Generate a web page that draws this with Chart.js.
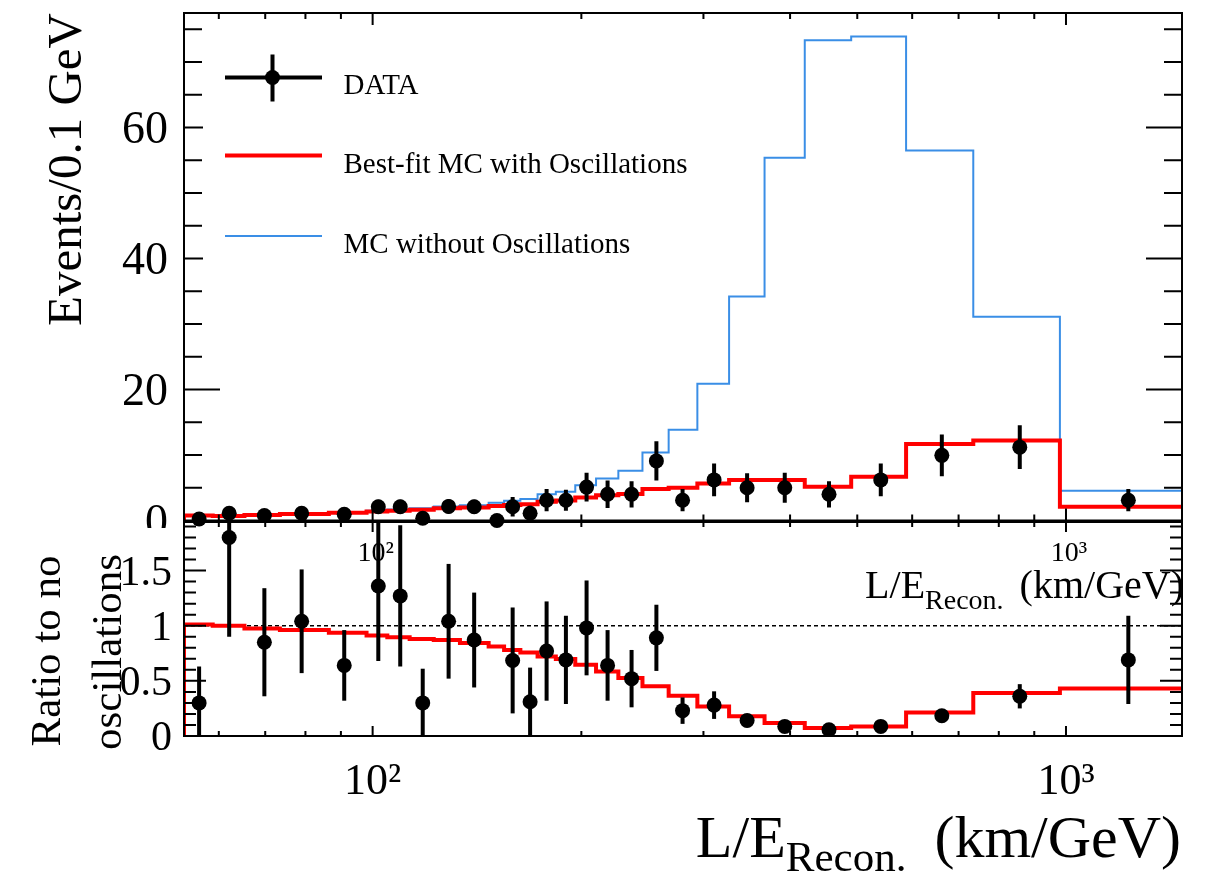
<!DOCTYPE html>
<html>
<head>
<meta charset="utf-8">
<title>L/E spectrum</title>
<script src="https://cdn.jsdelivr.net/npm/chart.js@4.4.1/dist/chart.umd.min.js"></script>
<style>
  html, body { margin: 0; padding: 0; background: #fff; }
  #wrap { position: relative; width: 1207px; height: 874px; overflow: hidden; }
  canvas { position: absolute; left: 0; }
  #ratioChart { top: 500px; z-index: 1; }
  #mainChart  { top: 0; z-index: 2; }
</style>
</head>
<body>
<div id="wrap">
  <canvas id="ratioChart" width="1207" height="374"></canvas>
  <canvas id="mainChart" width="1207" height="528"></canvas>
</div>
<script>
/* =============================================
   L/E spectrum with ratio panel — Chart.js
   ============================================= */

// ── Data ───────────────────────────────────────
// bin edges in L/E (km/GeV)
const binEdges = [53.45, 58.8, 65.33, 73.5, 86.47, 98, 105, 113.08, 122.5, 133.64, 147,
  154.74, 163.33, 172.94, 183.75, 196, 210, 226.15, 245, 267.27, 294, 326.67, 367.5,
  420, 490, 588, 735, 980, 1470];

// Events / 0.1 GeV per bin
const noOscMC   = [0.75, 0.7, 0.87, 1.04, 1.28, 1.5, 1.68, 1.88, 2.15, 2.34, 2.7, 3.0, 3.3,
  4.0, 4.4, 5.4, 6.4, 7.6, 10.4, 13.85, 20.9, 34.2, 55.4, 73.35, 73.9, 56.5, 31.1, 4.55];
const bestFitMC = [0.76, 0.69, 0.85, 1.0, 1.2, 1.36, 1.5, 1.65, 1.87, 1.97, 2.2, 2.35, 2.5,
  2.88, 3.05, 3.5, 3.85, 4.05, 4.8, 5.0, 5.66, 6.2, 6.2, 5.15, 6.67, 11.7, 12.2, 2.1];

// best-fit / no-oscillation, per bin (ratio panel)
const ratioBestFit = [1.01, 1.0, 0.975, 0.96, 0.935, 0.91, 0.895, 0.88, 0.87, 0.842, 0.812,
  0.78, 0.757, 0.72, 0.697, 0.646, 0.585, 0.525, 0.45, 0.365, 0.268, 0.178, 0.118, 0.072,
  0.087, 0.214, 0.39, 0.43];

// data points
const dataLE     = [56.2, 62.1, 69.8, 79.0, 91.0, 101.9, 109.6, 118.1, 128.7, 140.1, 151.1,
  159.2, 168.7, 178.2, 190.0, 203.5, 218.2, 236.3, 256.6, 279.9, 310.8, 346.8, 393.0,
  455.2, 540.6, 662.1, 857.7, 1230];
const dataEvents = [0.24, 1.1, 0.76, 1.1, 0.96, 2.1, 2.1, 0.35, 2.15, 2.1, 0, 2.1, 1.1,
  3.1, 3.1, 5.1, 4.0, 4.0, 9.1, 3.1, 6.2, 5.0, 5.0, 4.0, 6.2, 9.95, 11.2, 3.1];
const dataErr    = [0.26, 0.55, 0.44, 0.5, 0.48, 1.05, 1.05, 0.35, 1.1, 1.05, 0, 1.5, 1.15,
  1.7, 1.6, 2.2, 2.1, 2.0, 3.0, 1.7, 2.5, 2.2, 2.3, 2.0, 2.5, 3.2, 3.35, 1.7];
const ratioData  = [0.30, 1.80, 0.85, 1.04, 0.64, 1.36, 1.27, 0.30, 1.04, 0.87, null, 0.685,
  0.31, 0.77, 0.69, 0.98, 0.64, 0.52, 0.89, 0.23, 0.28, 0.14, 0.087, 0.057, 0.087, 0.184,
  0.36, 0.69];
const ratioErr   = [0.33, 0.90, 0.49, 0.47, 0.32, 0.68, 0.64, 0.31, 0.52, 0.43, null, 0.48,
  0.31, 0.45, 0.40, 0.43, 0.32, 0.26, 0.30, 0.12, 0.125, 0.06, 0.035, 0.025, 0.03, 0.04,
  0.11, 0.40];

// axes
const eventTicks = [0, 20, 40, 60];
const ratioTicks = [0, 0.5, 1, 1.5];
const xLabelTicks = [100, 1000];
const xMinorTicks = [60, 70, 80, 90, 200, 300, 400, 500, 600, 700, 800, 900];
const legendLabels = ['DATA', 'Best-fit MC with Oscillations', 'MC without Oscillations'];

const EVENTS_MAX = 77.5;
const RATIO_MAX  = 1.94;

// ── Style ──────────────────────────────────────
const SERIF = "'Liberation Serif', 'Times New Roman', serif";
const BLUE  = '#3a8ee6';
const RED   = '#ff0000';
const RATIO_TOP = 500;   // page offset of the ratio canvas

Chart.defaults.font.family = SERIF;
Chart.defaults.color = '#000';

const supLabel = v => (v === 100 ? '10\u00b2' : '10\u00b3');

function stepPoints(edges, values) {
  const pts = [{ x: edges[0], y: 0 }];
  values.forEach((v, i) => pts.push({ x: edges[i], y: v }));
  pts.push({ x: edges[edges.length - 1], y: values[values.length - 1] });
  return pts;
}

// fixed-size axes, no extra label padding (so both panels line up exactly)
const fixWidth  = w => s => { s.width = w;  s.paddingTop = 0;  s.paddingBottom = 0; };
const fixHeight = h => s => { s.height = h; s.paddingLeft = 0; s.paddingRight = 0; };

// ── Plugins ────────────────────────────────────
function makeErrorBars(xs, ys, errs) {
  return {
    id: 'errorBars',
    afterDatasetsDraw(chart) {
      const { ctx, chartArea: a, scales: { x, y } } = chart;
      ctx.save();
      ctx.beginPath();
      ctx.rect(a.left, a.top, a.right - a.left, a.bottom - a.top);
      ctx.clip();
      ctx.strokeStyle = '#000';
      ctx.lineWidth = 4;
      ys.forEach((v, i) => {
        if (v == null || !errs[i]) return;
        const px = x.getPixelForValue(xs[i]);
        ctx.beginPath();
        ctx.moveTo(px, y.getPixelForValue(v - errs[i]));
        ctx.lineTo(px, y.getPixelForValue(v + errs[i]));
        ctx.stroke();
      });
      ctx.restore();
    },
  };
}

// frame with inward ticks on all four sides (ROOT style)
function makeFrame(cfg) {
  return {
    id: 'frame',
    afterDraw(chart) {
      const { ctx, chartArea: a, scales: { x, y } } = chart;
      ctx.save();
      ctx.strokeStyle = '#000';
      ctx.lineWidth = 2;
      ctx.strokeRect(a.left, a.top, a.right - a.left, a.bottom - a.top);
      ctx.beginPath();
      const yTick = (v, len) => {
        const py = y.getPixelForValue(v);
        ctx.moveTo(a.left, py);  ctx.lineTo(a.left + len, py);
        ctx.moveTo(a.right, py); ctx.lineTo(a.right - len, py);
      };
      const xTick = (v, len) => {
        const px = x.getPixelForValue(v);
        ctx.moveTo(px, a.bottom); ctx.lineTo(px, a.bottom - len);
        ctx.moveTo(px, a.top);    ctx.lineTo(px, a.top + len);
      };
      for (let v = cfg.yStep; v < cfg.yMax; v += cfg.yStep) {
        const major = cfg.yMajor.some(m => Math.abs(m - v) < 1e-6);
        yTick(v, major ? cfg.yMajorLen : cfg.yMinorLen);
      }
      xMinorTicks.forEach(v => xTick(v, cfg.xMinorLen));
      xLabelTicks.forEach(v => xTick(v, cfg.xMajorLen));
      ctx.stroke();
      ctx.restore();
    },
  };
}

function drawLETitle(ctx, right, base, size, subSize, drop, gap) {
  ctx.textAlign = 'left';
  ctx.textBaseline = 'alphabetic';
  ctx.font = `${size}px ${SERIF}`;
  const w1 = ctx.measureText('L/E').width;
  const w3 = ctx.measureText('(km/GeV)').width;
  ctx.font = `${subSize}px ${SERIF}`;
  const w2 = ctx.measureText('Recon.').width;
  let x0 = right - w3 - gap - w2 - w1;
  ctx.font = `${size}px ${SERIF}`;
  ctx.fillText('L/E', x0, base);
  ctx.font = `${subSize}px ${SERIF}`;
  ctx.fillText('Recon.', x0 + w1, base + drop);
  ctx.font = `${size}px ${SERIF}`;
  ctx.fillText('(km/GeV)', x0 + w1 + w2 + gap, base);
}

const mainDecor = {
  id: 'mainDecor',
  afterDraw(chart) {
    const { ctx } = chart;
    ctx.save();
    ctx.fillStyle = '#000';
    // y title
    ctx.font = `49px ${SERIF}`;
    ctx.translate(81, 13);
    ctx.rotate(-Math.PI / 2);
    ctx.textAlign = 'right';
    ctx.textBaseline = 'alphabetic';
    ctx.fillText('Events/0.1 GeV', 0, 0);
    ctx.restore();

    // legend box (white, covers the long tick overhang like the ROOT legend)
    ctx.save();
    ctx.fillStyle = '#fff';
    ctx.fillRect(203, 36, 502, 254);
    ctx.lineCap = 'butt';
    // DATA entry
    ctx.strokeStyle = '#000';
    ctx.lineWidth = 4;
    ctx.beginPath();
    ctx.moveTo(225, 77.5); ctx.lineTo(322, 77.5);
    ctx.moveTo(272.5, 54.5); ctx.lineTo(272.5, 101.5);
    ctx.stroke();
    ctx.fillStyle = '#000';
    ctx.beginPath(); ctx.arc(272.5, 77.5, 7.5, 0, Math.PI * 2); ctx.fill();
    // best-fit
    ctx.strokeStyle = RED; ctx.lineWidth = 4;
    ctx.beginPath(); ctx.moveTo(225, 155.5); ctx.lineTo(322, 155.5); ctx.stroke();
    // no-osc
    ctx.strokeStyle = BLUE; ctx.lineWidth = 2;
    ctx.beginPath(); ctx.moveTo(225, 236); ctx.lineTo(322, 236); ctx.stroke();

    ctx.font = `29px ${SERIF}`;
    ctx.textAlign = 'left';
    ctx.textBaseline = 'alphabetic';
    ctx.fillText(legendLabels[0], 343.5, 94);
    ctx.fillText(legendLabels[1], 343.5, 172.5);
    ctx.fillText(legendLabels[2], 343.5, 253);
    ctx.restore();
  },
};

const ratioDecor = {
  id: 'ratioDecor',
  afterDraw(chart) {
    const { ctx, scales: { x } } = chart;
    ctx.save();
    ctx.fillStyle = '#000';
    // upper panel x labels and title, drawn under its axis
    ctx.font = `28px ${SERIF}`;
    ctx.textAlign = 'center';
    ctx.textBaseline = 'alphabetic';
    xLabelTicks.forEach(v => ctx.fillText(supLabel(v), x.getPixelForValue(v) + 3, 561 - RATIO_TOP));
    drawLETitle(ctx, 1184, 598 - RATIO_TOP, 40, 28, 11, 16);

    // lower x title
    drawLETitle(ctx, 1181, 857 - RATIO_TOP, 60, 43, 14, 28);

    // y title (two lines)
    ctx.font = `43px ${SERIF}`;
    ctx.textAlign = 'center';
    [['Ratio to no', 60, 651], ['oscillations', 121, 652]].forEach(([t, bx, cy]) => {
      ctx.save();
      ctx.translate(bx, cy - RATIO_TOP);
      ctx.rotate(-Math.PI / 2);
      ctx.fillText(t, 0, 0);
      ctx.restore();
    });
    ctx.restore();
  },
};

// ── Upper panel — events per bin ───────────────
new Chart(document.getElementById('mainChart'), {
  type: 'line',
  data: {
    datasets: [
      {
        label: legendLabels[0],
        data: dataLE.map((x, i) => ({ x, y: dataEvents[i] })),
        showLine: false,
        pointRadius: 7.5,
        pointBackgroundColor: '#000',
        pointBorderColor: '#000',
        pointBorderWidth: 0,
        clip: false,
      },
      {
        label: legendLabels[1],
        data: stepPoints(binEdges, bestFitMC),
        stepped: true,
        borderColor: RED,
        borderWidth: 4,
        pointRadius: 0,
        fill: false,
      },
      {
        label: legendLabels[2],
        data: stepPoints(binEdges, noOscMC),
        stepped: true,
        borderColor: BLUE,
        borderWidth: 2,
        pointRadius: 0,
        fill: false,
      },
    ],
  },
  options: {
    responsive: false,
    animation: false,
    devicePixelRatio: 1,
    layout: { padding: { top: 13, right: 25, bottom: 6, left: 0 } },
    plugins: { legend: { display: false }, tooltip: { enabled: false } },
    scales: {
      x: {
        type: 'logarithmic',
        min: binEdges[0],
        max: binEdges[binEdges.length - 1],
        display: false,
      },
      y: {
        min: 0,
        max: EVENTS_MAX,
        afterFit: fixWidth(184),
        afterBuildTicks: s => { s.ticks = eventTicks.map(v => ({ value: v })); },
        ticks: { font: { size: 46 }, color: '#000', padding: 8, labelOffset: 3, callback: v => String(v) },
        grid: { display: false },
        border: { display: false },
      },
    },
  },
  plugins: [
    makeErrorBars(dataLE, dataEvents, dataErr),
    makeFrame({ yStep: 5, yMax: EVENTS_MAX, yMajor: eventTicks, yMajorLen: 36, yMinorLen: 18, xMajorLen: 12, xMinorLen: 6 }),
    mainDecor,
  ],
});

// ── Lower panel — ratio to no oscillations ─────
new Chart(document.getElementById('ratioChart'), {
  type: 'line',
  data: {
    datasets: [
      {
        label: 'Data / no oscillations',
        data: dataLE.map((x, i) => ({ x, y: ratioData[i] })),
        showLine: false,
        pointRadius: 7.5,
        pointBackgroundColor: '#000',
        pointBorderColor: '#000',
        pointBorderWidth: 0,
      },
      {
        label: 'Best fit / no oscillations',
        data: stepPoints(binEdges, ratioBestFit),
        stepped: true,
        borderColor: RED,
        borderWidth: 4,
        pointRadius: 0,
        fill: false,
      },
      {
        label: 'unity',
        data: [{ x: binEdges[0], y: 1 }, { x: binEdges[binEdges.length - 1], y: 1 }],
        borderColor: '#000',
        borderWidth: 1.5,
        borderDash: [4, 3],
        pointRadius: 0,
        fill: false,
      },
    ],
  },
  options: {
    responsive: false,
    animation: false,
    devicePixelRatio: 1,
    layout: { padding: { top: 22, right: 25, bottom: 0, left: 0 } },
    plugins: { legend: { display: false }, tooltip: { enabled: false } },
    scales: {
      x: {
        type: 'logarithmic',
        min: binEdges[0],
        max: binEdges[binEdges.length - 1],
        afterFit: fixHeight(138),
        afterBuildTicks: s => { s.ticks = xLabelTicks.map(v => ({ value: v })); },
        ticks: { font: { size: 44 }, color: '#000', padding: 12, autoSkip: false, maxRotation: 0, callback: v => supLabel(v) },
        grid: { display: false },
        border: { display: false },
      },
      y: {
        min: 0,
        max: RATIO_MAX,
        afterFit: fixWidth(184),
        afterBuildTicks: s => { s.ticks = ratioTicks.map(v => ({ value: v })); },
        ticks: { font: { size: 42 }, color: '#000', padding: 4, labelOffset: 3, callback: v => String(v) },
        grid: { display: false },
        border: { display: false },
      },
    },
  },
  plugins: [
    makeErrorBars(dataLE, ratioData, ratioErr),
    makeFrame({ yStep: 0.1, yMax: RATIO_MAX, yMajor: [0.5, 1, 1.5], yMajorLen: 22, yMinorLen: 12, xMajorLen: 10, xMinorLen: 5 }),
    ratioDecor,
  ],
});
</script>
</body>
</html>
